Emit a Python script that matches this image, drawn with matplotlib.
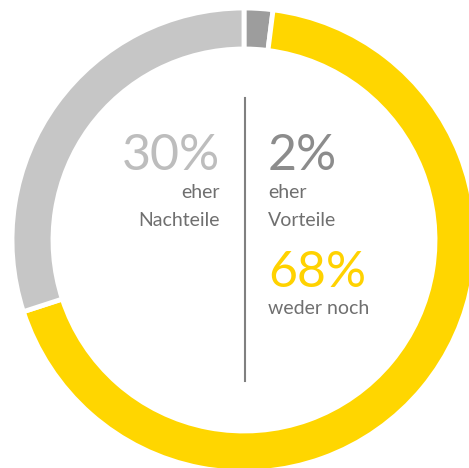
import matplotlib
matplotlib.use("Agg")
import matplotlib.pyplot as plt

# Werte im Uhrzeigersinn ab 12 Uhr
labels = ["eher Vorteile", "weder noch", "eher Nachteile"]
values = [2, 68, 30]
colors = ["#9d9d9d", "#ffd600", "#c6c6c6"]

W, H = 469, 468
fig = plt.figure(figsize=(W / 100, H / 100), dpi=100)
ax = fig.add_axes([0, 0, 1, 1])

cx, cy, r = 244, H - 240, 232
ax.pie(values, colors=colors, startangle=90, counterclock=False,
       center=(cx, cy), radius=r,
       wedgeprops=dict(width=41, edgecolor="white", linewidth=3.5))

ax.set_xlim(0, W)
ax.set_ylim(0, H)
ax.set_aspect("equal")
ax.axis("off")

# Trennlinie
ax.plot([245, 245], [H - 98, H - 381], color="#808080", lw=1.5)

big = dict(family=["Lato", "DejaVu Sans"], fontweight="normal", fontsize=36)
small = dict(family=["Lato", "DejaVu Sans"], fontweight="normal", fontsize=14, color="#6f6f6f")

ax.text(220, H - 170, f"{values[2]}%", ha="right", va="baseline", color="#bdbdbd", **big)
ax.text(220, H - 198, "eher", ha="right", va="baseline", **small)
ax.text(220, H - 226, "Nachteile", ha="right", va="baseline", **small)

ax.text(268, H - 170, f"{values[0]}%", ha="left", va="baseline", color="#8c8c8c", **big)
ax.text(268, H - 198, "eher", ha="left", va="baseline", **small)
ax.text(268, H - 226, "Vorteile", ha="left", va="baseline", **small)

ax.text(268, H - 287, f"{values[1]}%", ha="left", va="baseline", color="#ffd200", **big)
ax.text(268, H - 314, "weder noch", ha="left", va="baseline", **small)

fig.savefig("out.png", dpi=100, facecolor="white")
